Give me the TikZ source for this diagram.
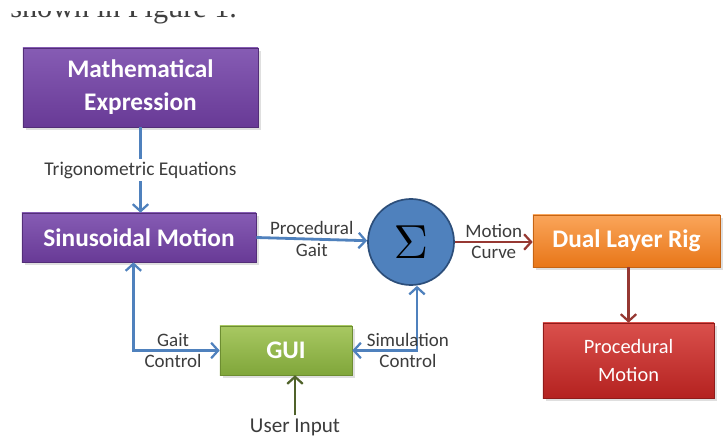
\documentclass[tikz,border=0pt]{standalone}
\usepackage{fontspec}
\setmainfont{Carlito}
\newfontfamily\capfont{Liberation Serif}
\usetikzlibrary{positioning, arrows.meta, shadows}
\definecolor{purpleA}{RGB}{134,92,180}
\definecolor{purpleB}{RGB}{104,58,150}
\definecolor{orangeA}{RGB}{250,165,90}
\definecolor{orangeB}{RGB}{232,118,24}
\definecolor{redA}{RGB}{218,80,76}
\definecolor{redB}{RGB}{180,34,32}
\definecolor{greenA}{RGB}{168,200,98}
\definecolor{greenB}{RGB}{128,166,58}
\definecolor{sumblue}{RGB}{79,129,189}
\definecolor{sumedge}{RGB}{44,78,122}
\definecolor{linkblue}{RGB}{79,129,189}
\definecolor{linkbrown}{RGB}{150,56,50}
\definecolor{linkolive}{RGB}{80,98,42}
\definecolor{labelgray}{RGB}{60,60,60}
\tikzset{
    base/.style={align=center, text=white, inner sep=2pt,
        drop shadow={shadow xshift=2pt, shadow yshift=-2pt, opacity=0.25}},
    box/.style={base, rectangle, draw=purpleB!80!black, top color=purpleA, bottom color=purpleB,
        font=\bfseries\fontsize{18}{23.5}\selectfont},
    orangebox/.style={box, draw=orangeB!85!black, top color=orangeA, bottom color=orangeB},
    redbox/.style={base, rectangle, draw=redB!80!black, top color=redA, bottom color=redB,
        font=\fontsize{14.5}{20.6}\selectfont},
    greenbox/.style={box, draw=greenB!85!black, top color=greenA, bottom color=greenB},
    sumnode/.style={circle, draw=sumedge, line width=1.2pt, fill=sumblue, minimum size=2.15cm,
        inner sep=0pt},
    lbl/.style={text=labelgray, font=\fontsize{13.5}{15}\selectfont, inner sep=2pt},
    arrow/.style={-{Straight Barb[length=5pt, width=11pt, line width=1.6pt]}, line width=2pt, draw=linkblue},
    twoarrow/.style={arrow, {Straight Barb[length=5pt, width=11pt, line width=1.6pt]}-{Straight Barb[length=5pt, width=11pt, line width=1.6pt]}},
    brownarrow/.style={arrow, draw=linkbrown},
    olivearrow/.style={arrow, draw=linkolive}
}
\begin{document}
\begin{tikzpicture}[x=0.025cm, y=-0.025cm]
    \clip (0,0) rectangle (724,439);
    \fill [white] (0,0) rectangle (724,439);
    % Caption line cut at the top
    \begin{scope}
        \clip (0,11.5) rectangle (724,30);
        \node [anchor=base west, inner sep=0pt, text=black!75, font=\capfont\fontsize{21.5}{24}\selectfont] (caption) at (10,18) {shown in Figure 1.};
    \end{scope}

    % Nodes
    \node [box, minimum width=5.875cm, minimum height=1.975cm] (mathexpr) at (140.5,87.5) {Mathematical \\ Expression};
    \node [box, minimum width=5.85cm, minimum height=1.225cm] (sinus) at (139,237.5) {Sinusoidal Motion};
    \node [sumnode] (sum) at (411,242) {\scalebox{3.4}{$\Sigma$}};
    \node [orangebox, minimum width=4.675cm, minimum height=1.3cm] (rig) at (626.5,241) {Dual Layer Rig};
    \node [redbox, minimum width=4.275cm, minimum height=1.875cm] (procmotion) at (628.5,360.5) {Procedural \\ Motion};
    \node [greenbox, minimum width=3.3cm, minimum height=1.225cm] (gui) at (286,350.5) {GUI};
    \node [lbl, font=\fontsize{15}{17}\selectfont] (user) at (295,427) {User Input};

    % Connections
    \draw [arrow] (mathexpr.south) -- node[lbl, fill=white, font=\fontsize{13.8}{15}\selectfont] {Trigonometric Equations} (mathexpr.south |- sinus.north);
    \draw [arrow] (sinus.east) -- node[lbl, above] {Procedural} node[lbl, below] {Gait} (sum);
    \draw [brownarrow] (sum.east) -- node[lbl, above] {Motion} node[lbl, below] {Curve} (rig.west |- sum.east);
    \draw [brownarrow] (rig.south -| procmotion.north) -- (procmotion.north);
    \draw [twoarrow] ([xshift=-0.14cm]sinus.south) |- node[lbl, pos=0.73, above] {Gait} node[lbl, pos=0.73, below] {Control} (gui.west);
    \draw [twoarrow] ([xshift=0.15cm]sum.south) |- node[lbl, pos=0.57, above] {Simulation} node[lbl, pos=0.57, below] {Control} (gui.east);
    \draw [olivearrow] (user.north) -- (user.north |- gui.south);
\end{tikzpicture}
\end{document}
